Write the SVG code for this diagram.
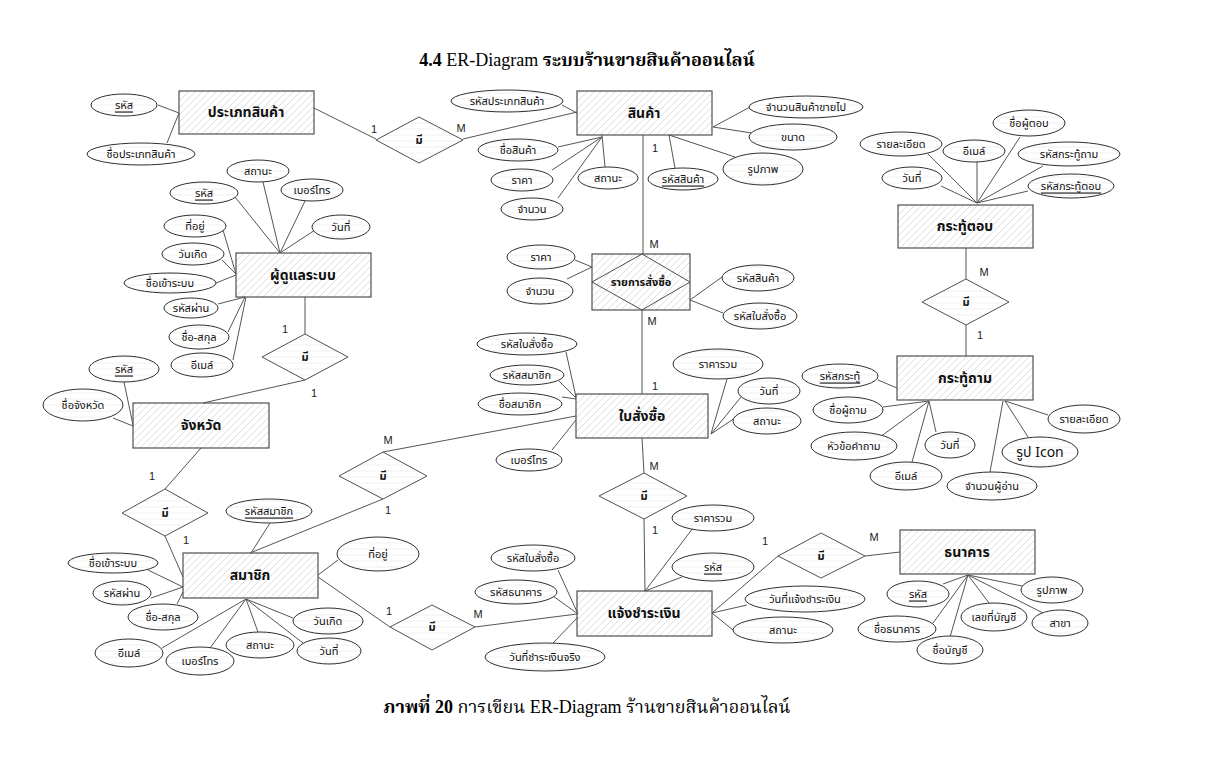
<svg xmlns="http://www.w3.org/2000/svg" width="1229" height="766" viewBox="0 0 1229 766">
<style>
.ent{fill:url(#hatch);stroke:#505050;stroke-width:1.2}
.att{fill:url(#lines);stroke:#303030;stroke-width:1}
.rel{fill:url(#lines);stroke:#505050;stroke-width:1}
.c line{stroke:#555;stroke-width:1}
.et{font-family:"Noto Sans Thai","Tahoma","Liberation Sans",sans-serif;font-size:14px;font-weight:bold;fill:#111;text-anchor:middle;dominant-baseline:central}
.at{font-family:"Noto Sans Thai","Tahoma","Liberation Sans",sans-serif;font-size:11px;fill:#111;text-anchor:middle;dominant-baseline:central}
.rt{font-family:"Noto Sans Thai","Tahoma","Liberation Sans",sans-serif;font-size:11px;font-weight:bold;fill:#111;text-anchor:middle;dominant-baseline:central}
.u{text-decoration:underline}
.card{font-family:"Liberation Sans",Arial,sans-serif;font-size:11px;fill:#222;text-anchor:middle;dominant-baseline:central}
.ttl{font-family:"Liberation Serif","Noto Serif Thai","Noto Sans Thai",serif;font-size:18px;fill:#000;text-anchor:middle}
</style>
<defs>
<pattern id="hatch" patternUnits="userSpaceOnUse" width="7" height="7">
<path d="M-1,8 L8,-1 M-1,1 L1,-1 M6,8 L8,6" stroke="#d4d4d4" stroke-width="0.8"/>
</pattern>
<pattern id="lines" patternUnits="userSpaceOnUse" width="6" height="6">
<rect width="6" height="6" fill="#fff"/>
<line x1="0" y1="3" x2="6" y2="3" stroke="#ececec" stroke-width="0.8"/>
</pattern>
</defs>
<rect width="1229" height="766" fill="#fff"/>
<text class="ttl" x="587" y="66"><tspan font-weight="bold">4.4</tspan> ER-Diagram <tspan font-weight="bold">ระบบร้านขายสินค้าออนไลน์</tspan></text>
<text class="ttl" x="587" y="713"><tspan font-weight="bold">ภาพที่ 20</tspan> การเขียน ER-Diagram ร้านขายสินค้าออนไลน์</text>

<g id="connectors" class="c">
<line x1="314" y1="108" x2="376" y2="139"/>
<line x1="463" y1="139" x2="577" y2="112"/>
<line x1="643" y1="135" x2="643" y2="254"/>
<line x1="642" y1="310" x2="642" y2="394"/>
<line x1="305" y1="297" x2="305" y2="334"/>
<line x1="305" y1="380" x2="203" y2="403"/>
<line x1="201" y1="448" x2="165" y2="489"/>
<line x1="165" y1="536" x2="183" y2="577"/>
<line x1="383" y1="452" x2="576" y2="416"/>
<line x1="383" y1="499" x2="250" y2="553"/>
<line x1="642" y1="438" x2="644" y2="473"/>
<line x1="644" y1="519" x2="645" y2="591"/>
<line x1="318" y1="577" x2="390" y2="627"/>
<line x1="475" y1="627" x2="577" y2="614"/>
<line x1="712" y1="613" x2="778" y2="556"/>
<line x1="865" y1="556" x2="900" y2="552"/>
<line x1="966" y1="248" x2="966" y2="279"/>
<line x1="966" y1="325" x2="966" y2="356"/>
<line x1="158" y1="105" x2="179" y2="113"/>
<line x1="167" y1="143" x2="179" y2="113"/>
<line x1="562" y1="105" x2="577" y2="113"/>
<line x1="558" y1="147" x2="602" y2="137"/>
<line x1="552" y1="170" x2="602" y2="137"/>
<line x1="558" y1="198" x2="602" y2="137"/>
<line x1="605" y1="167" x2="602" y2="135"/>
<line x1="675" y1="168" x2="669" y2="135"/>
<line x1="735" y1="157" x2="669" y2="135"/>
<line x1="752" y1="133" x2="713" y2="127"/>
<line x1="750" y1="107" x2="713" y2="127"/>
<line x1="1020" y1="137" x2="977" y2="203"/>
<line x1="928" y1="154" x2="977" y2="203"/>
<line x1="977" y1="162" x2="977" y2="203"/>
<line x1="1043" y1="166" x2="977" y2="203"/>
<line x1="941" y1="186" x2="977" y2="203"/>
<line x1="1028" y1="191" x2="977" y2="203"/>
<line x1="263" y1="182" x2="280" y2="253"/>
<line x1="235" y1="197" x2="280" y2="253"/>
<line x1="305" y1="201" x2="280" y2="253"/>
<line x1="315" y1="230" x2="280" y2="253"/>
<line x1="223" y1="230" x2="236" y2="274"/>
<line x1="222" y1="260" x2="236" y2="274"/>
<line x1="216" y1="283" x2="236" y2="275"/>
<line x1="218" y1="304" x2="245" y2="297"/>
<line x1="228" y1="332" x2="245" y2="297"/>
<line x1="233" y1="360" x2="246" y2="297"/>
<line x1="124" y1="382" x2="133" y2="425"/>
<line x1="113" y1="418" x2="133" y2="426"/>
<line x1="270" y1="523" x2="251" y2="553"/>
<line x1="338" y1="560" x2="318" y2="575"/>
<line x1="148" y1="570" x2="183" y2="587"/>
<line x1="151" y1="598" x2="183" y2="587"/>
<line x1="177" y1="604" x2="183" y2="592"/>
<line x1="162" y1="648" x2="246" y2="599"/>
<line x1="210" y1="648" x2="246" y2="599"/>
<line x1="258" y1="632" x2="246" y2="599"/>
<line x1="293" y1="618" x2="246" y2="599"/>
<line x1="303" y1="643" x2="246" y2="599"/>
<line x1="566" y1="352" x2="576" y2="397"/>
<line x1="559" y1="381" x2="576" y2="398"/>
<line x1="562" y1="397" x2="576" y2="399"/>
<line x1="552" y1="450" x2="576" y2="420"/>
<line x1="727" y1="379" x2="711" y2="434"/>
<line x1="741" y1="397" x2="711" y2="434"/>
<line x1="735" y1="418" x2="711" y2="434"/>
<line x1="575" y1="260" x2="592" y2="267"/>
<line x1="567" y1="279" x2="592" y2="267"/>
<line x1="722" y1="277" x2="690" y2="300"/>
<line x1="723" y1="313" x2="690" y2="300"/>
<line x1="878" y1="380" x2="897" y2="388"/>
<line x1="883" y1="407" x2="929" y2="401"/>
<line x1="880" y1="437" x2="929" y2="401"/>
<line x1="936" y1="432" x2="929" y2="401"/>
<line x1="912" y1="462" x2="929" y2="401"/>
<line x1="1048" y1="415" x2="1005" y2="401"/>
<line x1="1028" y1="437" x2="1005" y2="401"/>
<line x1="990" y1="472" x2="1003" y2="401"/>
<line x1="693" y1="528" x2="645" y2="591"/>
<line x1="682" y1="577" x2="645" y2="591"/>
<line x1="558" y1="570" x2="578" y2="614"/>
<line x1="553" y1="596" x2="578" y2="614"/>
<line x1="553" y1="643" x2="578" y2="617"/>
<line x1="747" y1="605" x2="712" y2="613"/>
<line x1="733" y1="630" x2="712" y2="613"/>
<line x1="943" y1="584" x2="968" y2="575"/>
<line x1="933" y1="623" x2="968" y2="575"/>
<line x1="950" y1="637" x2="968" y2="575"/>
<line x1="989" y1="603" x2="968" y2="575"/>
<line x1="1043" y1="613" x2="968" y2="575"/>
<line x1="1022" y1="586" x2="968" y2="575"/>
<text class="card" x="374" y="129">1</text>
<text class="card" x="461" y="128">M</text>
<text class="card" x="655" y="148">1</text>
<text class="card" x="654" y="244">M</text>
<text class="card" x="652" y="321">M</text>
<text class="card" x="655" y="386">1</text>
<text class="card" x="285" y="329">1</text>
<text class="card" x="314" y="393">1</text>
<text class="card" x="152" y="476">1</text>
<text class="card" x="186" y="540">1</text>
<text class="card" x="388" y="440">M</text>
<text class="card" x="388" y="510">1</text>
<text class="card" x="654" y="466">M</text>
<text class="card" x="655" y="530">1</text>
<text class="card" x="389" y="611">1</text>
<text class="card" x="478" y="614">M</text>
<text class="card" x="765" y="541">1</text>
<text class="card" x="874" y="537">M</text>
<text class="card" x="984" y="272">M</text>
<text class="card" x="980" y="335">1</text>
</g>

<g id="rel-type-product"><polygon class="rel" points="376,140 419,117 463,140 419,163"/><text class="rt" x="419" y="140">มี</text></g>
<g id="rel-admin-province"><polygon class="rel" points="262,357 305,334 348,357 305,380"/><text class="rt" x="305" y="357">มี</text></g>
<g id="rel-province-member"><polygon class="rel" points="122,513 165,489 208,513 165,536"/><text class="rt" x="165" y="513">มี</text></g>
<g id="rel-order-member"><polygon class="rel" points="339,476 383,452 427,476 383,499"/><text class="rt" x="383" y="476">มี</text></g>
<g id="rel-order-payment"><polygon class="rel" points="599,496 644,473 687,496 644,519"/><text class="rt" x="644" y="496">มี</text></g>
<g id="rel-member-payment"><polygon class="rel" points="390,627 432,605 475,627 432,650"/><text class="rt" x="432" y="627">มี</text></g>
<g id="rel-payment-bank"><polygon class="rel" points="778,556 821,533 865,556 821,578"/><text class="rt" x="821" y="556">มี</text></g>
<g id="rel-answer-question"><polygon class="rel" points="922,302 966,279 1009,302 966,325"/><text class="rt" x="966" y="302">มี</text></g>

<g id="product-type"><rect class="ent" x="179" y="91" width="135" height="43"/><text class="et" x="246" y="112">ประเภทสินค้า</text></g>
<g id="product"><rect class="ent" x="577" y="91" width="135" height="44"/><text class="et" x="644" y="113">สินค้า</text></g>
<g id="answer"><rect class="ent" x="898" y="205" width="135" height="43"/><text class="et" x="965" y="226">กระทู้ตอบ</text></g>
<g id="admin"><rect class="ent" x="236" y="253" width="135" height="44"/><text class="et" x="303" y="275">ผู้ดูแลระบบ</text></g>
<g id="order-item"><rect class="ent" x="592" y="254" width="98" height="56"/><polygon points="592,282 642,254 690,282 642,310" fill="none" stroke="#505050" stroke-width="1"/><text class="rt" x="641" y="282">รายการสั่งซื้อ</text></g>
<g id="order"><rect class="ent" x="576" y="394" width="132" height="44"/><text class="et" x="642" y="416">ใบสั่งซื้อ</text></g>
<g id="question"><rect class="ent" x="897" y="356" width="136" height="44"/><text class="et" x="965" y="378">กระทู้ถาม</text></g>
<g id="province"><rect class="ent" x="133" y="403" width="136" height="45"/><text class="et" x="201" y="425">จังหวัด</text></g>
<g id="member"><rect class="ent" x="183" y="553" width="135" height="45"/><text class="et" x="250" y="575">สมาชิก</text></g>
<g id="payment"><rect class="ent" x="577" y="591" width="135" height="45"/><text class="et" x="644" y="613">แจ้งชำระเงิน</text></g>
<g id="bank"><rect class="ent" x="900" y="530" width="135" height="44"/><text class="et" x="967" y="552">ธนาคาร</text></g>

<g id="a-pt-id"><ellipse class="att" cx="124" cy="105" rx="33" ry="11"/><text class="at u" x="124" y="105">รหัส</text></g>
<g id="a-pt-name"><ellipse class="att" cx="141" cy="154" rx="54" ry="11"/><text class="at" x="141" y="154">ชื่อประเภทสินค้า</text></g>

<g id="a-p-typeid"><ellipse class="att" cx="507" cy="101" rx="56" ry="11"/><text class="at" x="507" y="101">รหัสประเภทสินค้า</text></g>
<g id="a-p-name"><ellipse class="att" cx="518" cy="150" rx="40" ry="11"/><text class="at" x="518" y="150">ชื่อสินค้า</text></g>
<g id="a-p-price"><ellipse class="att" cx="522" cy="180" rx="31" ry="11"/><text class="at" x="522" y="180">ราคา</text></g>
<g id="a-p-qty"><ellipse class="att" cx="532" cy="209" rx="31" ry="11"/><text class="at" x="532" y="209">จำนวน</text></g>
<g id="a-p-status"><ellipse class="att" cx="608" cy="178" rx="30" ry="11"/><text class="at" x="608" y="178">สถานะ</text></g>
<g id="a-p-id"><ellipse class="att" cx="683" cy="179" rx="35" ry="11"/><text class="at u" x="683" y="179">รหัสสินค้า</text></g>
<g id="a-p-img"><ellipse class="att" cx="763" cy="169" rx="40" ry="16"/><text class="at" x="763" y="169">รูปภาพ</text></g>
<g id="a-p-size"><ellipse class="att" cx="793" cy="137" rx="44" ry="13"/><text class="at" x="793" y="137">ขนาด</text></g>
<g id="a-p-sold"><ellipse class="att" cx="806" cy="107" rx="57" ry="11"/><text class="at" x="806" y="107">จำนวนสินค้าขายไป</text></g>

<g id="a-ans-name"><ellipse class="att" cx="1029" cy="123" rx="36" ry="13"/><text class="at" x="1029" y="123">ชื่อผู้ตอบ</text></g>
<g id="a-ans-detail"><ellipse class="att" cx="901" cy="144" rx="41" ry="12"/><text class="at" x="901" y="144">รายละเอียด</text></g>
<g id="a-ans-email"><ellipse class="att" cx="974" cy="151" rx="31" ry="11"/><text class="at" x="974" y="151">อีเมล์</text></g>
<g id="a-ans-qid"><ellipse class="att" cx="1069" cy="154" rx="51" ry="12"/><text class="at" x="1069" y="154">รหัสกระทู้ถาม</text></g>
<g id="a-ans-date"><ellipse class="att" cx="912" cy="178" rx="30" ry="11"/><text class="at" x="912" y="178">วันที่</text></g>
<g id="a-ans-id"><ellipse class="att" cx="1071" cy="186" rx="43" ry="12"/><text class="at u" x="1071" y="186">รหัสกระทู้ตอบ</text></g>

<g id="a-ad-status"><ellipse class="att" cx="258" cy="171" rx="31" ry="11"/><text class="at" x="258" y="171">สถานะ</text></g>
<g id="a-ad-id"><ellipse class="att" cx="204" cy="193" rx="34" ry="11"/><text class="at u" x="204" y="193">รหัส</text></g>
<g id="a-ad-tel"><ellipse class="att" cx="312" cy="190" rx="31" ry="11"/><text class="at" x="312" y="190">เบอร์โทร</text></g>
<g id="a-ad-date"><ellipse class="att" cx="341" cy="227" rx="29" ry="12"/><text class="at" x="341" y="227">วันที่</text></g>
<g id="a-ad-addr"><ellipse class="att" cx="195" cy="226" rx="31" ry="11"/><text class="at" x="195" y="226">ที่อยู่</text></g>
<g id="a-ad-bday"><ellipse class="att" cx="193" cy="254" rx="31" ry="11"/><text class="at" x="193" y="254">วันเกิด</text></g>
<g id="a-ad-login"><ellipse class="att" cx="170" cy="283" rx="46" ry="10"/><text class="at" x="170" y="283">ชื่อเข้าระบบ</text></g>
<g id="a-ad-pass"><ellipse class="att" cx="191" cy="308" rx="27" ry="10"/><text class="at" x="191" y="308">รหัสผ่าน</text></g>
<g id="a-ad-fullname"><ellipse class="att" cx="199" cy="337" rx="30" ry="12"/><text class="at" x="199" y="337">ชื่อ-สกุล</text></g>
<g id="a-ad-email"><ellipse class="att" cx="202" cy="365" rx="31" ry="12"/><text class="at" x="202" y="365">อีเมล์</text></g>

<g id="a-pv-id"><ellipse class="att" cx="124" cy="369" rx="35" ry="13"/><text class="at u" x="124" y="369">รหัส</text></g>
<g id="a-pv-name"><ellipse class="att" cx="83" cy="405" rx="40" ry="16"/><text class="at" x="83" y="405">ชื่อจังหวัด</text></g>

<g id="a-m-id"><ellipse class="att" cx="269" cy="511" rx="43" ry="12"/><text class="at u" x="269" y="511">รหัสสมาชิก</text></g>
<g id="a-m-addr"><ellipse class="att" cx="378" cy="554" rx="41" ry="17"/><text class="at" x="378" y="554">ที่อยู่</text></g>
<g id="a-m-login"><ellipse class="att" cx="113" cy="563" rx="45" ry="10"/><text class="at" x="113" y="563">ชื่อเข้าระบบ</text></g>
<g id="a-m-pass"><ellipse class="att" cx="122" cy="593" rx="29" ry="12"/><text class="at" x="122" y="593">รหัสผ่าน</text></g>
<g id="a-m-fullname"><ellipse class="att" cx="163" cy="617" rx="35" ry="13"/><text class="at" x="163" y="617">ชื่อ-สกุล</text></g>
<g id="a-m-email"><ellipse class="att" cx="129" cy="653" rx="34" ry="14"/><text class="at" x="129" y="653">อีเมล์</text></g>
<g id="a-m-tel"><ellipse class="att" cx="200" cy="661" rx="34" ry="14"/><text class="at" x="200" y="661">เบอร์โทร</text></g>
<g id="a-m-status"><ellipse class="att" cx="260" cy="645" rx="34" ry="13"/><text class="at" x="260" y="645">สถานะ</text></g>
<g id="a-m-bday"><ellipse class="att" cx="328" cy="621" rx="35" ry="13"/><text class="at" x="328" y="621">วันเกิด</text></g>
<g id="a-m-date"><ellipse class="att" cx="329" cy="651" rx="32" ry="13"/><text class="at" x="329" y="651">วันที่</text></g>

<g id="a-o-id"><ellipse class="att" cx="527" cy="344" rx="50" ry="11"/><text class="at" x="527" y="344">รหัสใบสั่งซื้อ</text></g>
<g id="a-o-mid"><ellipse class="att" cx="527" cy="375" rx="37" ry="10"/><text class="at" x="527" y="375">รหัสสมาชิก</text></g>
<g id="a-o-mname"><ellipse class="att" cx="520" cy="404" rx="42" ry="11"/><text class="at" x="520" y="404">ชื่อสมาชิก</text></g>
<g id="a-o-tel"><ellipse class="att" cx="529" cy="460" rx="33" ry="11"/><text class="at" x="529" y="460">เบอร์โทร</text></g>
<g id="a-o-total"><ellipse class="att" cx="718" cy="364" rx="45" ry="15"/><text class="at" x="718" y="364">ราคารวม</text></g>
<g id="a-o-date"><ellipse class="att" cx="769" cy="391" rx="31" ry="13"/><text class="at" x="769" y="391">วันที่</text></g>
<g id="a-o-status"><ellipse class="att" cx="767" cy="421" rx="34" ry="13"/><text class="at" x="767" y="421">สถานะ</text></g>

<g id="a-oi-price"><ellipse class="att" cx="541" cy="257" rx="34" ry="12"/><text class="at" x="541" y="257">ราคา</text></g>
<g id="a-oi-qty"><ellipse class="att" cx="540" cy="291" rx="33" ry="13"/><text class="at" x="540" y="291">จำนวน</text></g>
<g id="a-oi-pid"><ellipse class="att" cx="758" cy="278" rx="36" ry="13"/><text class="at" x="758" y="278">รหัสสินค้า</text></g>
<g id="a-oi-oid"><ellipse class="att" cx="760" cy="316" rx="37" ry="13"/><text class="at" x="760" y="316">รหัสใบสั่งซื้อ</text></g>

<g id="a-q-id"><ellipse class="att" cx="840" cy="376" rx="38" ry="12"/><text class="at u" x="840" y="376">รหัสกระทู้</text></g>
<g id="a-q-name"><ellipse class="att" cx="848" cy="410" rx="35" ry="13"/><text class="at" x="848" y="410">ชื่อผู้ถาม</text></g>
<g id="a-q-topic"><ellipse class="att" cx="854" cy="446" rx="43" ry="14"/><text class="at" x="854" y="446">หัวข้อคำถาม</text></g>
<g id="a-q-date"><ellipse class="att" cx="950" cy="445" rx="25" ry="13"/><text class="at" x="950" y="445">วันที่</text></g>
<g id="a-q-email"><ellipse class="att" cx="906" cy="476" rx="36" ry="14"/><text class="at" x="906" y="476">อีเมล์</text></g>
<g id="a-q-detail"><ellipse class="att" cx="1084" cy="419" rx="36" ry="14"/><text class="at" x="1084" y="419">รายละเอียด</text></g>
<g id="a-q-icon"><ellipse class="att" cx="1040" cy="452" rx="38" ry="15"/><text class="at" x="1040" y="452" style="font-size:14px">รูป Icon</text></g>
<g id="a-q-readers"><ellipse class="att" cx="992" cy="486" rx="45" ry="14"/><text class="at" x="992" y="486">จำนวนผู้อ่าน</text></g>

<g id="a-pay-total"><ellipse class="att" cx="713" cy="518" rx="41" ry="13"/><text class="at" x="713" y="518">ราคารวม</text></g>
<g id="a-pay-id"><ellipse class="att" cx="713" cy="567" rx="41" ry="14"/><text class="at u" x="713" y="567">รหัส</text></g>
<g id="a-pay-oid"><ellipse class="att" cx="533" cy="558" rx="42" ry="13"/><text class="at" x="533" y="558">รหัสใบสั่งซื้อ</text></g>
<g id="a-pay-bid"><ellipse class="att" cx="516" cy="592" rx="41" ry="12"/><text class="at" x="516" y="592">รหัสธนาคาร</text></g>
<g id="a-pay-realdate"><ellipse class="att" cx="545" cy="657" rx="60" ry="14"/><text class="at" x="545" y="657">วันที่ชำระเงินจริง</text></g>
<g id="a-pay-notedate"><ellipse class="att" cx="805" cy="599" rx="60" ry="13"/><text class="at" x="805" y="599">วันที่แจ้งชำระเงิน</text></g>
<g id="a-pay-status"><ellipse class="att" cx="783" cy="630" rx="50" ry="13"/><text class="at" x="783" y="630">สถานะ</text></g>

<g id="a-b-id"><ellipse class="att" cx="918" cy="594" rx="31" ry="13"/><text class="at u" x="918" y="594">รหัส</text></g>
<g id="a-b-name"><ellipse class="att" cx="897" cy="629" rx="39" ry="13"/><text class="at" x="897" y="629">ชื่อธนาคาร</text></g>
<g id="a-b-accname"><ellipse class="att" cx="950" cy="650" rx="33" ry="14"/><text class="at" x="950" y="650">ชื่อบัญชี</text></g>
<g id="a-b-accno"><ellipse class="att" cx="994" cy="617" rx="33" ry="14"/><text class="at" x="994" y="617">เลขที่บัญชี</text></g>
<g id="a-b-branch"><ellipse class="att" cx="1060" cy="623" rx="28" ry="13"/><text class="at" x="1060" y="623">สาขา</text></g>
<g id="a-b-img"><ellipse class="att" cx="1052" cy="590" rx="31" ry="13"/><text class="at" x="1052" y="590">รูปภาพ</text></g>
</svg>
